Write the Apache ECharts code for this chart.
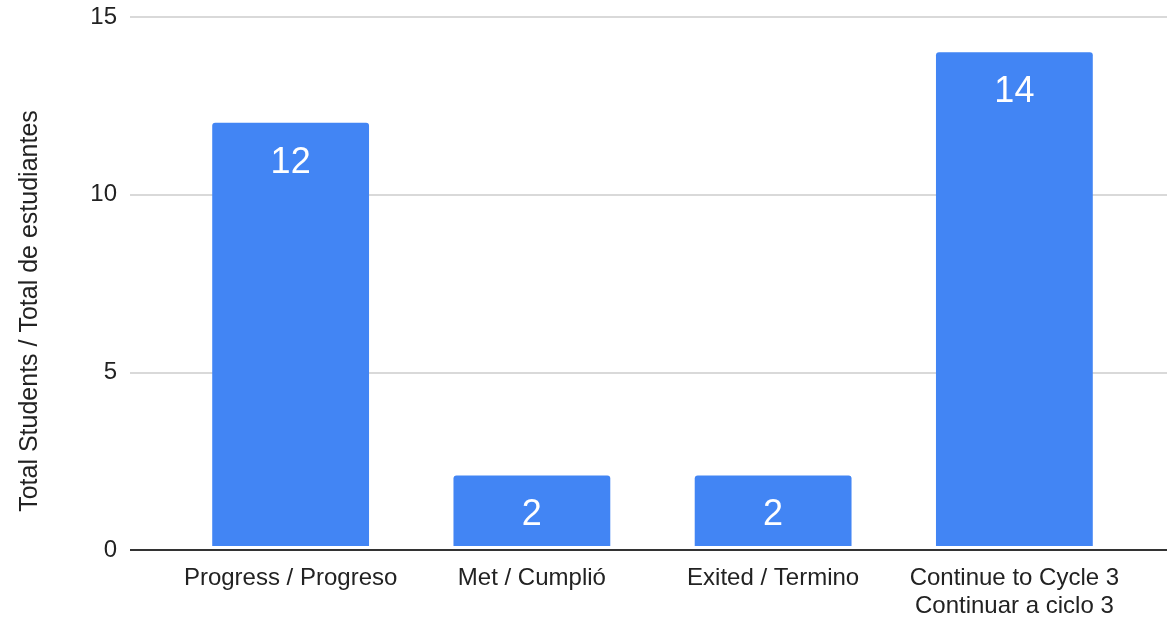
<!DOCTYPE html>
<html><head><meta charset="utf-8">
<script src="https://cdn.jsdelivr.net/npm/echarts@6/dist/echarts.min.js"></script>
<style>html,body{margin:0;padding:0;background:#fff}#c{width:1167px;height:620px}</style>
</head><body><div id="c"></div>
<script>
const categories = ['Progress / Progreso', 'Met / Cumplió', 'Exited / Termino', 'Continue to Cycle 3\nContinuar a ciclo 3'];
const values = [12, 2, 2, 14];
const yTicks = [0, 5, 10, 15];
const yTitle = 'Total Students / Total de estudiantes';

const FONT = '"Liberation Sans", Arial, sans-serif';
const chart = echarts.init(document.getElementById('c'));
chart.setOption({
  animation: false,
  grid: [
    {left: 130, right: 0, top: 17, bottom: 70},
    {left: 170, right: 32, top: 17, bottom: 70}
  ],
  graphic: [{
    type: 'text', x: 30, y: 311, rotation: Math.PI / 2,
    style: {text: yTitle, fontFamily: FONT, fontSize: 25, fill: '#222', align: 'center', verticalAlign: 'middle'}
  }],
  xAxis: [
    {gridIndex: 0, type: 'value', min: 0, max: 1, show: false},
    {gridIndex: 1, type: 'category', data: categories,
     axisLine: {show: false}, axisTick: {show: false},
     axisLabel: {fontFamily: FONT, fontSize: 24, color: '#222', margin: 18, lineHeight: 28, interval: 0}}
  ],
  yAxis: [
    {gridIndex: 0, type: 'value', min: yTicks[0], max: yTicks[yTicks.length - 1], interval: 5,
     axisLine: {show: false}, axisTick: {show: false},
     axisLabel: {fontFamily: FONT, fontSize: 24, color: '#222', margin: 13},
     splitLine: {lineStyle: {color: '#cccccc', width: 1.5}}},
    {gridIndex: 1, type: 'value', min: yTicks[0], max: yTicks[yTicks.length - 1], interval: 5, show: false}
  ],
  series: [
    {type: 'line', xAxisIndex: 0, yAxisIndex: 0, data: [[0, 0], [1, 0]], symbol: 'none',
     lineStyle: {color: '#333', width: 2}, silent: true, z: 5},
    {type: 'bar', xAxisIndex: 1, yAxisIndex: 1, data: values, barWidth: '65%',
     itemStyle: {color: '#4285F4', borderRadius: [3, 3, 0, 0]},
     label: {show: true, position: 'insideTop', distance: 22, color: '#fff', fontFamily: FONT, fontSize: 36}}
  ]
});
</script></body></html>
